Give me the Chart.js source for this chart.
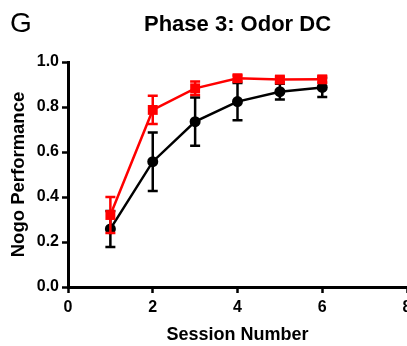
<!DOCTYPE html>
<html>
<head>
<meta charset="utf-8">
<script src="https://cdn.jsdelivr.net/npm/chart.js@4"></script>
<style>
  html, body { margin: 0; padding: 0; background: #fff; overflow: hidden; }
  #wrap { width: 430px; height: 346px; }
</style>
</head>
<body>
<div id="wrap"><canvas id="myChart" width="430" height="346"></canvas></div>
<script>
// session numbers on x
const sessions = [1, 2, 3, 4, 5, 6];
// red group (squares)
const redMean = [0.32, 0.787, 0.883, 0.928, 0.922, 0.923];
const redErr = [0.08, 0.063, 0.03, 0.012, 0.012, 0.014];
// black group (circles)
const blackMean = [0.258, 0.557, 0.735, 0.824, 0.868, 0.887];
const blackErr = [0.08, 0.13, 0.107, 0.083, 0.035, 0.042];

const xTicks = [0, 2, 4, 6, 8];
const yTicks = [0, 0.2, 0.4, 0.6, 0.8, 1.0];

const FONT = "'Liberation Sans', Arial, sans-serif";

function toPoints(xs, ys) {
  return xs.map((x, i) => ({ x: x, y: ys[i] }));
}

// error bars, drawn just before each dataset so markers sit on top
const errorBars = {
  id: "errorBars",
  beforeDatasetDraw(chart, args) {
    const ds = chart.data.datasets[args.index];
    if (!ds.errors) return;
    const ctx = chart.ctx;
    const xs = chart.scales.x;
    const ys = chart.scales.y;
    ctx.save();
    ctx.strokeStyle = ds.borderColor;
    ctx.lineWidth = 2.5;
    ds.data.forEach((p, i) => {
      const px = xs.getPixelForValue(p.x);
      const top = ys.getPixelForValue(p.y + ds.errors[i]);
      const bot = ys.getPixelForValue(p.y - ds.errors[i]);
      ctx.beginPath();
      ctx.moveTo(px, top);
      ctx.lineTo(px, bot);
      ctx.moveTo(px - 5, top);
      ctx.lineTo(px + 5, top);
      ctx.moveTo(px - 5, bot);
      ctx.lineTo(px + 5, bot);
      ctx.stroke();
    });
    ctx.restore();
  }
};

// panel letter
const panelLetter = {
  id: "panelLetter",
  afterDraw(chart) {
    const ctx = chart.ctx;
    ctx.save();
    ctx.fillStyle = "#000";
    ctx.font = "28px " + FONT;
    ctx.textAlign = "left";
    ctx.textBaseline = "middle";
    ctx.fillText("G", 10, 24);
    ctx.restore();
  }
};

function noPad(scale) {
  scale.paddingLeft = 0;
  scale.paddingRight = 0;
  scale.paddingTop = 0;
  scale.paddingBottom = 0;
}

const ctx = document.getElementById("myChart");
new Chart(ctx, {
  type: "line",
  data: {
    datasets: [
      {
        label: "red",
        data: toPoints(sessions, redMean),
        errors: redErr,
        borderColor: "#ff0000",
        backgroundColor: "#ff0000",
        borderWidth: 2.5,
        pointStyle: "rect",
        pointRadius: 7,
        pointBorderWidth: 0,
        tension: 0
      },
      {
        label: "black",
        data: toPoints(sessions, blackMean),
        errors: blackErr,
        borderColor: "#000000",
        backgroundColor: "#000000",
        borderWidth: 2.5,
        pointStyle: "circle",
        pointRadius: 5.5,
        pointBorderWidth: 0,
        tension: 0
      }
    ]
  },
  options: {
    responsive: false,
    animation: false,
    layout: { padding: { left: 0, right: 23, top: 0, bottom: 0 } },
    plugins: {
      legend: { display: false },
      tooltip: { enabled: false },
      title: {
        display: true,
        text: "Phase 3: Odor DC",
        color: "#000",
        fullSize: false,
        font: { family: FONT, size: 22, weight: "bold" },
        padding: { top: 12, bottom: 23.6 }
      }
    },
    scales: {
      x: {
        type: "linear",
        min: 0,
        max: 8,
        afterBuildTicks(scale) {
          scale.ticks = xTicks.map(v => ({ value: v }));
        },
        afterFit(scale) {
          noPad(scale);
          scale.height = 59;
        },
        grid: {
          drawOnChartArea: false,
          drawTicks: true,
          tickLength: 6,
          tickWidth: 2.5,
          tickColor: "#000"
        },
        border: { display: true, color: "#000", width: 3 },
        ticks: {
          color: "#000",
          padding: 5,
          maxRotation: 0,
          font: { family: FONT, size: 16, weight: "bold" }
        },
        title: {
          display: true,
          text: "Session Number",
          color: "#000",
          padding: { top: 0, bottom: 0 },
          font: { family: FONT, size: 18, weight: "bold" }
        }
      },
      y: {
        min: 0,
        max: 1,
        afterBuildTicks(scale) {
          scale.ticks = yTicks.map(v => ({ value: v }));
        },
        afterFit(scale) {
          noPad(scale);
          scale.width = 68;
        },
        grid: {
          drawOnChartArea: false,
          drawTicks: true,
          tickLength: 6,
          tickWidth: 2.5,
          tickColor: "#000"
        },
        border: { display: true, color: "#000", width: 3 },
        ticks: {
          color: "#000",
          padding: 3,
          font: { family: FONT, size: 16, weight: "bold" },
          callback: v => v.toFixed(1)
        },
        title: {
          display: true,
          text: "Nogo Performance",
          color: "#000",
          padding: { top: 8, bottom: 8 },
          font: { family: FONT, size: 18.5, weight: "bold" }
        }
      }
    }
  },
  plugins: [errorBars, panelLetter]
});
</script>
</body>
</html>
